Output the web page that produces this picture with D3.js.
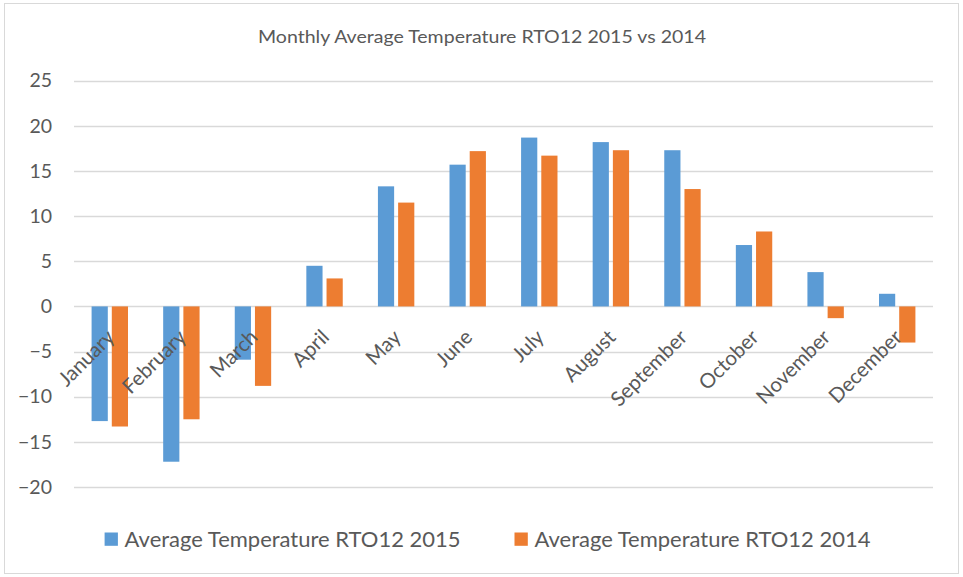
<!DOCTYPE html>
<html><head><meta charset="utf-8">
<script src="https://cdn.jsdelivr.net/npm/d3@7"></script>
<style>body{margin:0;background:#fff}svg{display:block}text{font-family:Lato,"Open Sans",sans-serif;fill:#595959}</style>
</head><body><svg id="c" width="963" height="577"></svg>
<script>
const months = ["January","February","March","April","May","June","July","August","September","October","November","December"];
const temp2015 = [-12.7,-17.2,-5.9,4.5,13.3,15.7,18.7,18.2,17.3,6.8,3.8,1.4];
const temp2014 = [-13.3,-12.5,-8.8,3.1,11.5,17.2,16.7,17.3,13.0,8.3,-1.3,-4.0];
const yTicks = [-20,-15,-10,-5,0,5,10,15,20,25];
const seriesNames = ["Average Temperature RTO12 2015","Average Temperature RTO12 2014"];
const colors = ["#5B9BD5","#ED7D31"];
const title = "Monthly Average Temperature RTO12 2015 vs 2014";

const svg = d3.select("#c");
svg.append("rect").attr("x",4.5).attr("y",3.5).attr("width",954).attr("height",570).attr("fill","#fff").attr("stroke","#D9D9D9");

const x = d3.scaleBand().domain(months).range([74,933]).padding(0);
const y = d3.scaleLinear().domain([-20,25]).range([487,80.7]);

// gridlines
svg.append("g").selectAll("line").data(yTicks).join("line")
  .attr("x1",74).attr("x2",933).attr("y1",d=>Math.round(y(d))+0.5).attr("y2",d=>Math.round(y(d))+0.5)
  .attr("stroke","#D9D9D9").attr("stroke-width",1.3);

// y axis labels
const yAxis = d3.axisLeft(y).tickValues(yTicks).tickSize(0).tickPadding(0);
const ga = svg.append("g").attr("transform","translate(52,0)").call(yAxis);
ga.select(".domain").remove();
ga.selectAll("text").attr("font-size",19.5).attr("fill","#595959").style("font-family","Lato");

const bw = 16.2, gap = 4;
const series = [temp2015, temp2014];
series.forEach((vals,si)=>{
  svg.append("g").selectAll("rect").data(months).join("rect")
    .attr("x",(m)=> x(m)+x.bandwidth()/2 + (si===0 ? -gap/2-bw : gap/2))
    .attr("width",bw)
    .attr("y",(m,i)=> y(Math.max(0,vals[i])))
    .attr("height",(m,i)=> Math.abs(y(vals[i])-y(0)))
    .attr("fill",colors[si]);
});

// category labels
svg.append("g").selectAll("text").data(months).join("text")
  .attr("transform",m=>`translate(${x(m)+x.bandwidth()/2+6},${y(0)+32}) rotate(-45)`)
  .attr("text-anchor","end").attr("font-size",20.5).text(d=>d);

// title
svg.append("text").attr("x",482).attr("y",43).attr("text-anchor","middle")
  .attr("font-size",17).attr("textLength",448).attr("lengthAdjust","spacingAndGlyphs").text(title);

// legend
const lx = [104.6, 514.5];
seriesNames.forEach((n,i)=>{
  svg.append("rect").attr("x",lx[i]).attr("y",532.5).attr("width",13.3).attr("height",13.3).attr("fill",colors[i]);
  svg.append("text").attr("x",lx[i]+20).attr("y",546.5).attr("font-size",20.5)
    .attr("textLength",336).attr("lengthAdjust","spacingAndGlyphs").text(n);
});
</script></body></html>
